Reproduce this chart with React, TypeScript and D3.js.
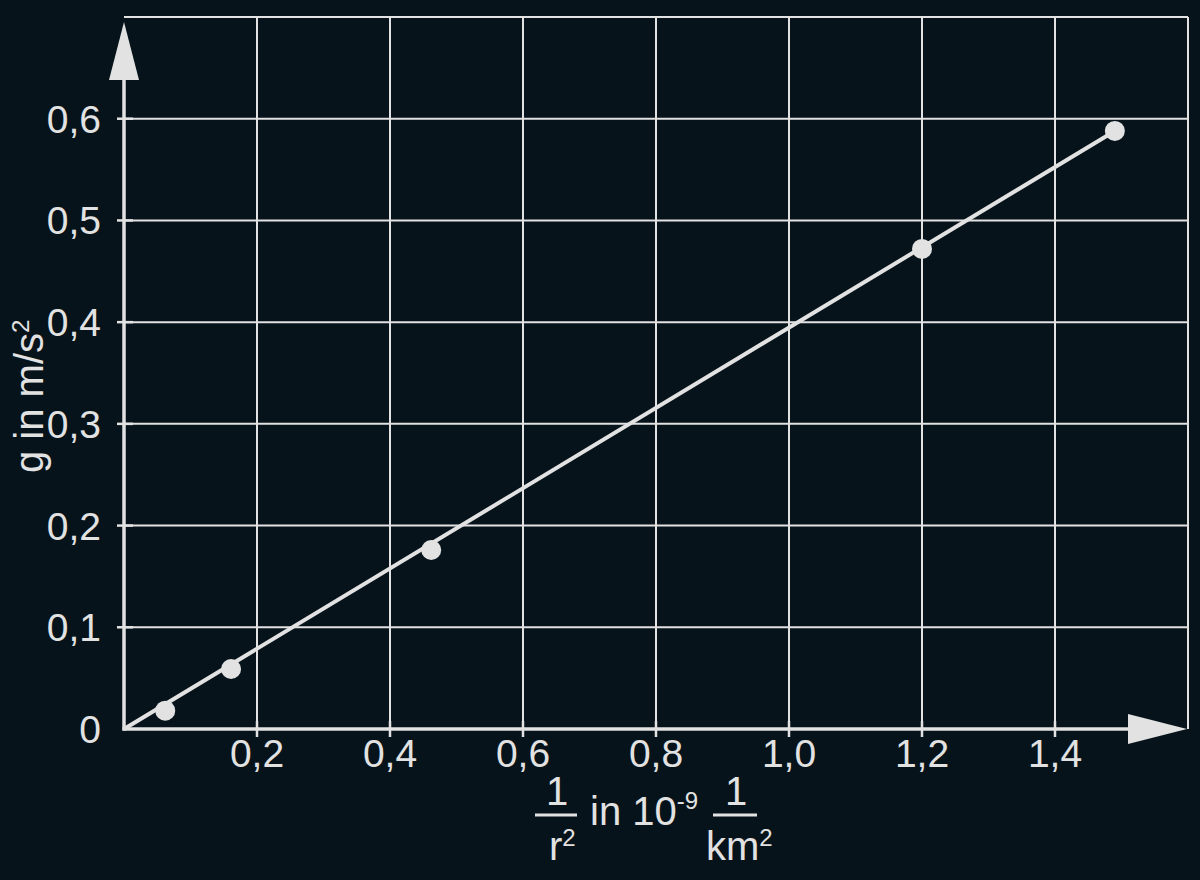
import * as d3 from 'd3';

const invR2 = [0.062, 0.161, 0.462, 1.2, 1.49];
const gValues = [0.018, 0.059, 0.176, 0.472, 0.588];
const fitX = [0, 1.49];
const fitG = [0, 0.588];
const xTicks = [0.2, 0.4, 0.6, 0.8, 1.0, 1.2, 1.4];
const yTicks = [0, 0.1, 0.2, 0.3, 0.4, 0.5, 0.6];
const xGrid = [0.2, 0.4, 0.6, 0.8, 1.0, 1.2, 1.4, 1.6];
const yGrid = [0.1, 0.2, 0.3, 0.4, 0.5, 0.6, 0.7];

const W = 1200;
const H = 880;
const FG = '#e2e2e2';
const BG = '#06131a';
const font = '"Liberation Sans", Arial, sans-serif';

const fmt = (v: number) => (v === 0 ? '0' : v.toFixed(1).replace('.', ','));

const App = () => {
  const x = d3.scaleLinear().domain([0, 1.6]).range([124, 1188]);
  const y = d3.scaleLinear().domain([0, 0.7]).range([729, 17]);

  const line = d3.line<number>()
    .x((d) => x(d))
    .y((_, i) => y(fitG[i]));

  const x0 = x(0);
  const y0 = y(0);

  return (
    <div style={{ position: 'fixed', left: 0, top: 0, width: W, height: H }}>
      <svg width={W} height={H} style={{ display: 'block' }} fontFamily={font}>
        <rect width={W} height={H} fill={BG} />

        {/* grid */}
        {xGrid.map((d) => (
          <line key={'gx' + d} x1={x(d)} x2={x(d)} y1={y(0.7)} y2={y0} stroke={FG} strokeWidth={2} />
        ))}
        {yGrid.map((d) => (
          <line key={'gy' + d} x1={x0} x2={x(1.6)} y1={y(d)} y2={y(d)} stroke={FG} strokeWidth={2} />
        ))}

        {/* axes */}
        <line x1={x0} x2={x0} y1={y0 + 1.5} y2={80} stroke={FG} strokeWidth={3.5} />
        <line x1={x0 - 1.5} x2={1130} y1={y0} y2={y0} stroke={FG} strokeWidth={3.5} />
        <polygon points={`${x0},22 ${x0 + 15},80 ${x0 - 15},80`} fill={FG} />
        <polygon points={`1187,${y0} 1128,${y0 - 15} 1128,${y0 + 15}`} fill={FG} />

        {/* ticks */}
        {yTicks.map((d) => (
          <g key={'ty' + d}>
            {d > 0 && <line x1={x0 - 7} x2={x0 + 9} y1={y(d)} y2={y(d)} stroke={FG} strokeWidth={2.5} />}
            <text x={101} y={y(d)} dy="0.36em" textAnchor="end" fontSize={39} fill={FG}>{fmt(d)}</text>
          </g>
        ))}
        {xTicks.map((d) => (
          <g key={'tx' + d}>
            <line x1={x(d)} x2={x(d)} y1={y0 - 8} y2={y0 + 8} stroke={FG} strokeWidth={2.5} />
            <text x={x(d)} y={y0 + 38} textAnchor="middle" fontSize={39} fill={FG}>{fmt(d)}</text>
          </g>
        ))}

        {/* fit line + points */}
        <path d={line(fitX) || ''} fill="none" stroke={FG} strokeWidth={4} />
        {invR2.map((d, i) => (
          <circle key={'p' + i} cx={x(d)} cy={y(gValues[i])} r={10} fill={FG} />
        ))}

        {/* y label */}
        <text transform="translate(43,473) rotate(-90)" fontSize={40} fill={FG}>
          g in m/s<tspan fontSize={24} dy={-14}>2</tspan>
        </text>

        {/* x label */}
        <g fill={FG} fontSize={40}>
          <text x={557} y={805} textAnchor="middle">1</text>
          <line x1={535} x2={577} y1={815} y2={815} stroke={FG} strokeWidth={3} />
          <text x={549} y={860} textAnchor="start" dx={0}>
            <tspan x={549}>r</tspan><tspan fontSize={24} dy={-14}>2</tspan>
          </text>
          <text x={590} y={825}>in 10<tspan fontSize={24} dy={-16}>-9</tspan></text>
          <text x={736} y={805} textAnchor="middle">1</text>
          <line x1={713} x2={757} y1={815} y2={815} stroke={FG} strokeWidth={3} />
          <text x={706} y={860}>km<tspan fontSize={24} dy={-14}>2</tspan></text>
        </g>
      </svg>
    </div>
  );
};

export default App;
